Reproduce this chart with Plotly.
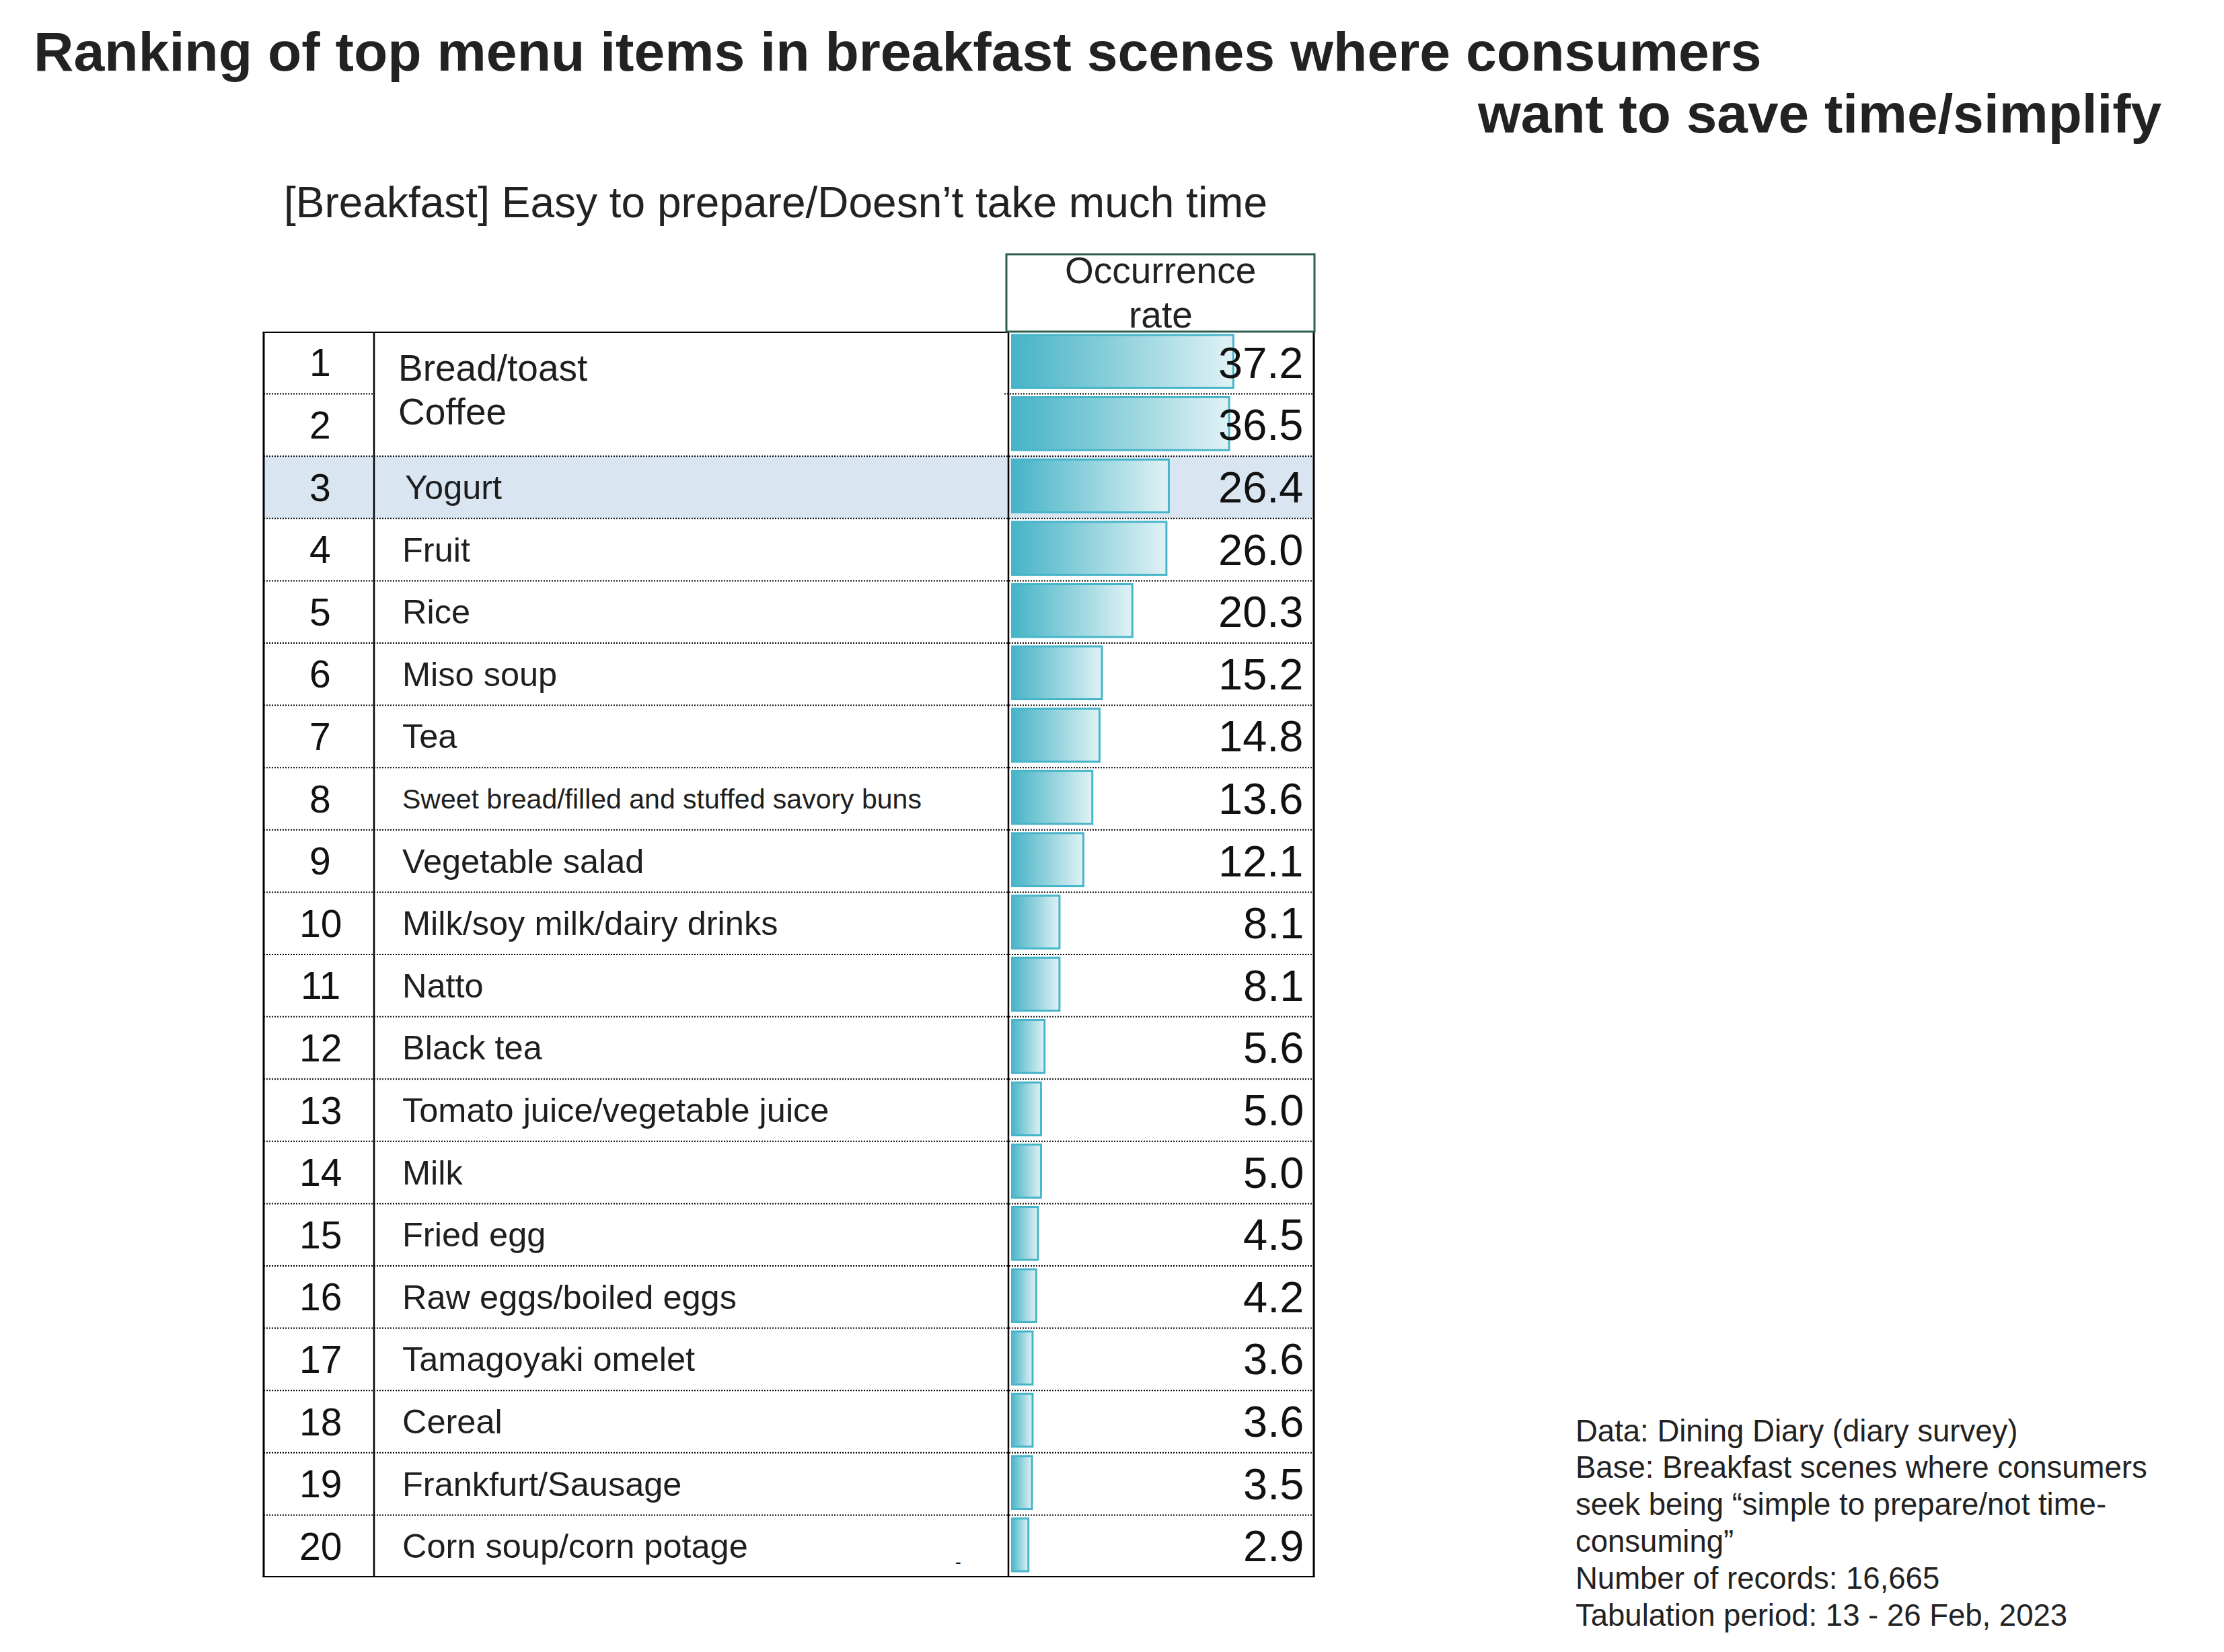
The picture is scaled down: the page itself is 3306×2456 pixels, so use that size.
import plotly.graph_objects as go

# ---------------- data ----------------
ranks = list(range(1, 21))
items = [
    "Bread/toast", "Coffee", "Yogurt", "Fruit", "Rice", "Miso soup", "Tea",
    "Sweet bread/filled and stuffed savory buns", "Vegetable salad",
    "Milk/soy milk/dairy drinks", "Natto", "Black tea",
    "Tomato juice/vegetable juice", "Milk", "Fried egg",
    "Raw eggs/boiled eggs", "Tamagoyaki omelet", "Cereal",
    "Frankfurt/Sausage", "Corn soup/corn potage",
]
rates = [37.2, 36.5, 26.4, 26.0, 20.3, 15.2, 14.8, 13.6, 12.1, 8.1,
         8.1, 5.6, 5.0, 5.0, 4.5, 4.2, 3.6, 3.6, 3.5, 2.9]
highlight_rank = 3
header_lines = ["Occurrence", "rate"]
title_lines = ["Ranking of top menu items in breakfast scenes where consumers",
               "want to save time/simplify"]
subtitle = "[Breakfast] Easy to prepare/Doesn\u2019t take much time"
notes = [
    "Data: Dining Diary (diary survey)",
    "Base: Breakfast scenes where consumers",
    "seek being \u201csimple to prepare/not time-",
    "consuming\u201d",
    "Number of records: 16,665",
    "Tabulation period: 13 - 26 Feb, 2023",
]

# ---------------- layout constants (pixels) ----------------
W, H = 3306, 2456
FONT = "Liberation Sans, Arial, Helvetica, sans-serif"
TABLE_L, RANK_R, NAME_R, TABLE_R = 392, 556, 1499, 1953
TABLE_T, TABLE_B = 493, 2345
BAR_X0 = 1503
PX_PER_UNIT = 8.88
ROW_H = (TABLE_B - TABLE_T) / len(ranks)
BAR_COLOR = "#47b5c9"


def px(x):
    return x / W


def py(y):
    return 1 - y / H


fig = go.Figure()

# bars with horizontal gradient
for r, v in zip(ranks, rates):
    y0, y1 = r - 0.446, r + 0.403
    fig.add_trace(go.Scatter(
        x=[0, v, v, 0, 0], y=[y0, y0, y1, y1, y0],
        mode="lines", fill="toself",
        fillgradient=dict(type="horizontal",
                          colorscale=[[0, "#45b3c7"], [0.5, "#92d2dd"], [1, "#e0f2f5"]]),
        line=dict(color=BAR_COLOR, width=3),
        hoverinfo="skip", showlegend=False,
    ))

shapes = []
# highlight row
shapes.append(dict(type="rect", xref="paper", yref="y", layer="below",
                   x0=px(TABLE_L), x1=px(TABLE_R),
                   y0=highlight_rank - 0.5, y1=highlight_rank + 0.5,
                   fillcolor="#d9e6f1", line=dict(width=0)))
# dotted row separators
for k in ranks[:-1]:
    yy = k + 0.5
    if k == 1:
        segs = [(TABLE_L, RANK_R), (1493, TABLE_R)]
    else:
        segs = [(TABLE_L, TABLE_R)]
    for a, b in segs:
        shapes.append(dict(type="line", xref="paper", yref="y",
                           x0=px(a), x1=px(b), y0=yy, y1=yy,
                           line=dict(color="#000000", width=2, dash="2px,2px")))
# vertical lines
for xx, wdt in [(TABLE_L, 3), (RANK_R, 2.5), (NAME_R, 2.5), (TABLE_R, 3)]:
    shapes.append(dict(type="line", xref="paper", yref="y",
                       x0=px(xx), x1=px(xx), y0=0.5, y1=20.5,
                       line=dict(color="#000000", width=wdt)))
# top and bottom borders
shapes.append(dict(type="line", xref="paper", yref="y",
                   x0=px(TABLE_L - 1.5), x1=px(NAME_R), y0=0.5, y1=0.5,
                   line=dict(color="#000000", width=4)))
shapes.append(dict(type="line", xref="paper", yref="y",
                   x0=px(TABLE_L - 1.5), x1=px(TABLE_R + 1.5), y0=20.5, y1=20.5,
                   line=dict(color="#000000", width=4)))
# header box
shapes.append(dict(type="line", xref="paper", yref="paper",
                   x0=px(TABLE_R), x1=px(TABLE_R), y0=py(398), y1=py(TABLE_T),
                   line=dict(color="#000000", width=1.5)))
shapes.append(dict(type="rect", xref="paper", yref="paper",
                   x0=px(1496), x1=px(1954), y0=py(378), y1=py(TABLE_T),
                   fillcolor="white", line=dict(color="#2e5e50", width=3)))

ann = []
# title
ann.append(dict(text="<b>%s</b>" % title_lines[0], xref="paper", yref="paper",
                x=px(48), y=py(76), xanchor="left", yanchor="middle",
                showarrow=False, font=dict(size=82.4, color="#222222", family=FONT)))
ann.append(dict(text="<b>%s</b>" % title_lines[1], xref="paper", yref="paper",
                x=px(3216), y=py(168), xanchor="right", yanchor="middle",
                showarrow=False, font=dict(size=82, color="#222222", family=FONT)))
ann.append(dict(text=subtitle, xref="paper", yref="paper",
                x=px(420), y=py(301), xanchor="left", yanchor="middle",
                showarrow=False, font=dict(size=64, color="#222222", family=FONT)))
# header
for txt, yy in zip(header_lines, [402, 468]):
    ann.append(dict(text=txt, xref="paper", yref="paper",
                    x=px(1725), y=py(yy), xanchor="center", yanchor="middle",
                    showarrow=False, font=dict(size=55, color="#222222", family=FONT)))
# rows
name_offsets_px = {1: 8, 2: -20}
name_x_shift_px = {1: -6, 2: -6, 3: 4}
name_size_override = {1: 55, 2: 55}
for r, name, v in zip(ranks, items, rates):
    ann.append(dict(text=str(r), xref="paper", yref="y",
                    x=px(476), y=r, xanchor="center", yanchor="middle",
                    showarrow=False, font=dict(size=57, color="#111111", family=FONT)))
    size = 41 if len(name) > 32 else name_size_override.get(r, 50.5)
    ann.append(dict(text=name, xref="paper", yref="y",
                    x=px(596 + name_x_shift_px.get(r, 0)),
                    y=r + name_offsets_px.get(r, 0) / ROW_H,
                    xanchor="left", yanchor="middle", showarrow=False,
                    font=dict(size=size, color="#1e1e1e", family=FONT)))
    ann.append(dict(text="%.1f" % v, xref="paper", yref="y",
                    x=px(1940), y=r, xanchor="right", yanchor="middle",
                    showarrow=False, font=dict(size=65, color="#111111", family=FONT)))
# small stray mark in last row
ann.append(dict(text="-", xref="paper", yref="y", x=px(1424), y=20.25,
                xanchor="center", yanchor="middle", showarrow=False,
                font=dict(size=26, color="#111111", family=FONT)))
# notes
for i, line in enumerate(notes):
    ann.append(dict(text=line, xref="paper", yref="paper",
                    x=px(2340), y=py(2127 + i * 54.8), xanchor="left", yanchor="middle",
                    showarrow=False, font=dict(size=45.5, color="#222222", family=FONT)))

fig.update_layout(
    width=W, height=H, margin=dict(l=0, r=0, t=0, b=0),
    paper_bgcolor="white", plot_bgcolor="rgba(0,0,0,0)",
    showlegend=False, shapes=shapes, annotations=ann,
    xaxis=dict(domain=[px(BAR_X0), px(TABLE_R)],
               range=[0, (TABLE_R - BAR_X0) / PX_PER_UNIT],
               visible=False, fixedrange=True),
    yaxis=dict(domain=[py(TABLE_B), py(TABLE_T)], range=[20.5, 0.5],
               visible=False, fixedrange=True),
)

fig.write_html("out.html")
